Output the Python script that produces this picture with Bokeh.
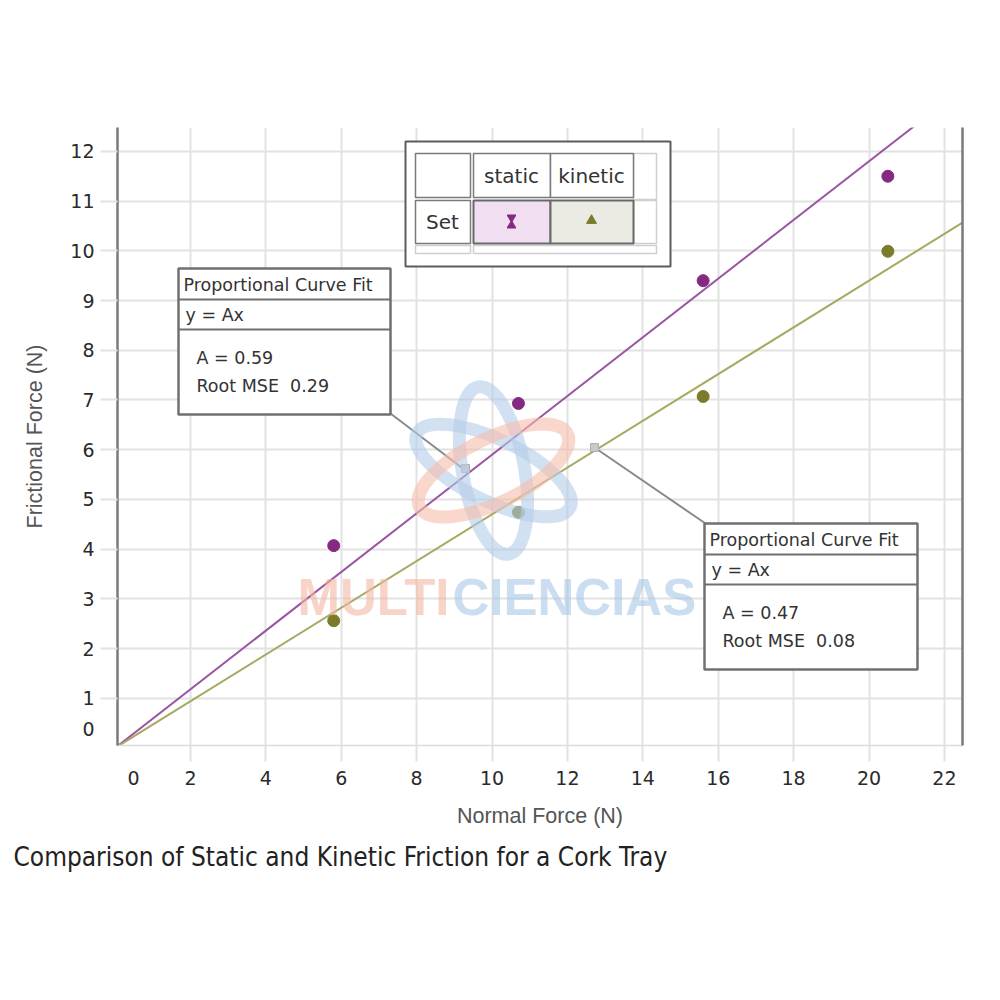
from bokeh.plotting import figure
from bokeh.models import Range1d, FixedTicker, LinearAxis, Title, Label
from bokeh.core.properties import value
from bokeh.embed import file_html
from bokeh.resources import INLINE

# ---------------- data ----------------
normal_force = [5.8, 10.7, 15.6, 20.5]
static_friction = [4.07, 6.93, 9.40, 11.50]
kinetic_friction = [2.56, 4.74, 7.07, 9.99]
series_names = ["static", "kinetic"]
fit_A = [0.59, 0.47]
fit_rmse = [0.29, 0.08]
x_tick_values = [2, 4, 6, 8, 10, 12, 14, 16, 18, 20, 22]
y_tick_values = [1, 2, 3, 4, 5, 6, 7, 8, 9, 10, 11, 12]
zero_label = "0"
x_label = "Normal Force (N)"
y_label = "Frictional Force (N)"
chart_title = "Comparison of Static and Kinetic Friction for a Cork Tray"
fit_title = "Proportional Curve Fit"
fit_formula = "y = Ax"
legend_row = "Set"
watermark = ["MULTI", "CIENCIAS"]

# ---------------- geometry (page pixels -> data) ----------------
OFF = 0
FL, FR, FT, FB = 117, 962, 127, 745
XS, XE = 0.064, 22.48
YS, YE = 0.05, 12.48


def dx(px):
    return XS + (px - FL) * (XE - XS) / (FR - FL)


def dy(py):
    return YS + (FB - py) * (YE - YS) / (FB - FT)


W, H = 990, 910
p = figure(width=W, height=H, output_backend="svg", toolbar_location=None,
           x_range=Range1d(XS, XE), y_range=Range1d(YS, YE),
           min_border_left=FL - OFF, min_border_right=OFF + W - FR,
           min_border_top=FT - OFF, min_border_bottom=OFF + H - FB,
           background_fill_color="white", border_fill_color="white")
p.outline_line_color = None

GRID = "#e2e2e2"
TICKFONT = "DejaVu Sans"

# x axis
xa = p.xaxis[0]
xa.ticker = FixedTicker(ticks=[0.49] + x_tick_values, minor_ticks=x_tick_values)
xa.major_label_overrides = {0.49: zero_label}
xa.major_tick_line_color = None
xa.minor_tick_in = 0
xa.minor_tick_out = 16
xa.minor_tick_line_color = GRID
xa.minor_tick_line_width = 2
xa.axis_line_color = "#dcdcdc"
xa.axis_line_width = 1.5
xa.major_label_text_font = TICKFONT
xa.major_label_text_font_size = "19px"
xa.major_label_text_color = "#2a2a2a"
xa.major_label_standoff = 9
xa.axis_label = x_label
xa.axis_label_text_font = "Liberation Sans"
xa.axis_label_text_font_size = "21.5px"
xa.axis_label_text_font_style = "normal"
xa.axis_label_text_color = "#555555"
xa.axis_label_standoff = 16

# y axis
ya = p.yaxis[0]
ya.ticker = FixedTicker(ticks=[0.39] + y_tick_values, minor_ticks=y_tick_values)
ya.major_label_overrides = {0.39: zero_label}
ya.major_tick_line_color = None
ya.minor_tick_in = 0
ya.minor_tick_out = 17
ya.minor_tick_line_color = GRID
ya.minor_tick_line_width = 2
ya.axis_line_color = "#7a7a7a"
ya.axis_line_width = 2.5
ya.major_label_text_font = TICKFONT
ya.major_label_text_font_size = "19px"
ya.major_label_text_color = "#2a2a2a"
ya.major_label_standoff = 6
ya.axis_label = y_label
ya.axis_label_text_font = "Liberation Sans"
ya.axis_label_text_font_size = "21.5px"
ya.axis_label_text_font_style = "normal"
ya.axis_label_text_color = "#555555"
ya.axis_label_standoff = 20

# right border line
ra = LinearAxis(ticker=FixedTicker(ticks=[]), major_label_text_font_size="0px",
                major_tick_line_color=None, minor_tick_line_color=None,
                axis_line_color="#7a7a7a", axis_line_width=2.5)
p.add_layout(ra, "right")

p.xgrid.ticker = FixedTicker(ticks=x_tick_values)
p.ygrid.ticker = FixedTicker(ticks=y_tick_values)
p.xgrid.grid_line_color = GRID
p.ygrid.grid_line_color = GRID
p.xgrid.grid_line_width = 2
p.ygrid.grid_line_width = 2

# ---------------- fit lines & points ----------------
LINE_COLORS = ["#9a55a3", "#a9a862"]
PT_COLORS = ["#852a82", "#7b7b2b"]
for A, lc in zip(fit_A, LINE_COLORS):
    p.line([0, XE], [0, A * XE], line_color=lc, line_width=2)

p.scatter(normal_force, static_friction, size=12, fill_color=PT_COLORS[0],
          line_color=PT_COLORS[0])
p.scatter(normal_force, kinetic_friction, size=12, fill_color=PT_COLORS[1],
          line_color=PT_COLORS[1])

# ---------------- leader lines ----------------
p.line([dx(390), dx(465)], [dy(413), dy(470)], line_color="#8a8a8a", line_width=2)
p.line([dx(594), dx(705)], [dy(447), dy(523)], line_color="#8a8a8a", line_width=2)
p.scatter([dx(594), dx(465)], [dy(447), dy(468)], marker="square", size=8,
          fill_color="#c8c8c8", line_color="#b0b0b0")

TXT = dict(text_font=value("DejaVu Sans"), text_color="#333333",
           text_baseline="middle")
BOXFONT = "17.5px"


def fit_box(l, t, r, b, d1, d2, A, rmse):
    p.quad(left=dx(l), right=dx(r), top=dy(t), bottom=dy(b), fill_color="white",
           line_color="#707070", line_width=2.5)
    p.segment(x0=[dx(l), dx(l)], y0=[dy(d1), dy(d2)], x1=[dx(r), dx(r)],
              y1=[dy(d1), dy(d2)], line_color="#707070", line_width=2)
    p.text([dx(l + 5)], [dy((t + d1) / 2 + 0.5)], text=[fit_title],
           text_font_size=BOXFONT, text_align="left", **TXT)
    p.text([dx(l + 7)], [dy((d1 + d2) / 2)], text=[fit_formula],
           text_font_size=BOXFONT, text_align="left", **TXT)
    p.text([dx(l + 18)], [dy(d2 + 28)], text=[f"A = {A:.2f}"],
           text_font_size=BOXFONT, text_align="left", **TXT)
    p.text([dx(l + 18)], [dy(d2 + 56)], text=[f"Root MSE\u00a0 {rmse:.2f}"],
           text_font_size=BOXFONT, text_align="left", **TXT)


fit_box(178, 268, 390, 414, 299, 329, fit_A[0], fit_rmse[0])
fit_box(704, 523, 917, 669, 554, 584, fit_A[1], fit_rmse[1])

# ---------------- legend table ----------------
p.quad(left=dx(405), right=dx(670), top=dy(141), bottom=dy(266),
       fill_color="white", line_color="#5c5c5c", line_width=2)
# light cells
p.quad(left=[dx(633), dx(633), dx(415), dx(473)],
       right=[dx(656), dx(656), dx(470), dx(656)],
       top=[dy(153), dy(200), dy(245), dy(245)],
       bottom=[dy(199), dy(243), dy(253), dy(253)],
       fill_color="white", line_color="#cfcfcf", line_width=1.5)
# header cells
p.quad(left=[dx(415), dx(473), dx(550), dx(415)],
       right=[dx(470), dx(550), dx(633), dx(470)],
       top=[dy(153), dy(153), dy(153), dy(200)],
       bottom=[dy(197), dy(197), dy(197), dy(243)],
       fill_color="white", line_color="#7a7a7a", line_width=1.5)
# swatch cells
p.quad(left=[dx(473), dx(550)], right=[dx(550), dx(633)],
       top=[dy(200), dy(200)], bottom=[dy(243), dy(243)],
       fill_color=["#f1dff1", "#ebebe4"], line_color="#686868", line_width=2)
p.text([dx(511), dx(591)], [dy(175), dy(175)], text=series_names,
       text_font_size="20px", text_align="center", **TXT)
p.text([dx(442)], [dy(221)], text=[legend_row], text_font_size="20px",
       text_align="center", **TXT)
# static symbol (hourglass)
p.scatter([dx(511)], [dy(218)], marker="inverted_triangle", size=7,
          fill_color=PT_COLORS[0], line_color=PT_COLORS[0])
p.scatter([dx(511)], [dy(224)], marker="triangle", size=7,
          fill_color=PT_COLORS[0], line_color=PT_COLORS[0])
p.scatter([dx(511), dx(511)], [dy(215), dy(227)], marker="dash", size=9,
          line_color=PT_COLORS[0], line_width=2)
# kinetic symbol
p.scatter([dx(591)], [dy(220)], marker="triangle", size=10,
          fill_color=PT_COLORS[1], line_color=PT_COLORS[1])

# ---------------- watermark ----------------
cx, cy = dx(493), dy(470)
p.ellipse(x=[cx, cx, cx], y=[cy, cy, cy], width=[170, 170, 165],
          height=[62, 62, 64], angle=[-0.45, 1.75, 0.46],
          width_units="screen", height_units="screen", fill_alpha=0,
          line_color=["#b4cde8", "#b4cde8", "#f6bcab"], line_width=13,
          line_alpha=0.6)
p.add_layout(Label(x=dx(297), y=dy(597), text=watermark[0], text_baseline="middle",
                   text_font="Liberation Sans", text_font_style="bold",
                   text_font_size="51px", text_color="#f4b5a2", text_alpha=0.6))
p.add_layout(Label(x=dx(452), y=dy(597), text=watermark[1], text_baseline="middle",
                   text_font="Liberation Sans", text_font_style="bold",
                   text_font_size="51px", text_color="#a9c6e6", text_alpha=0.6))

# ---------------- title ----------------
t = Title(text=chart_title, align="left", offset=13 - FL,
          text_font="DejaVu Sans Condensed, Liberation Sans Narrow, DejaVu Sans",
          text_font_size="26px", text_font_style="normal", text_color="#222222",
          standoff=19)
p.add_layout(t, "below")

open("out.html", "w").write(file_html(p, INLINE))
